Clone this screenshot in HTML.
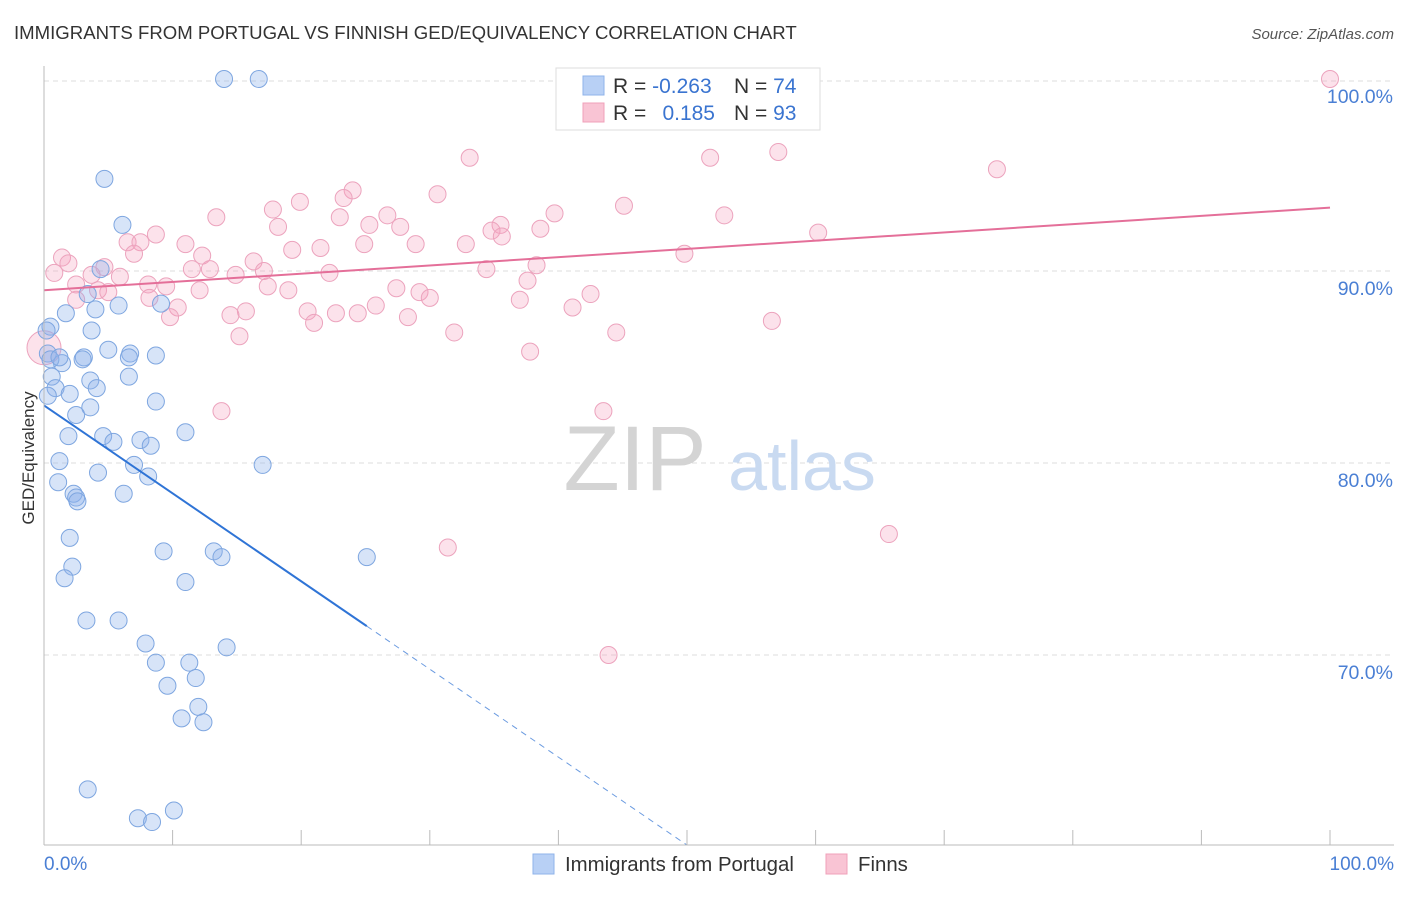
<!DOCTYPE html>
<html><head><meta charset="utf-8"><style>
body{margin:0;background:#fff;font-family:"Liberation Sans",sans-serif;}
svg text{font-family:"Liberation Sans",sans-serif;}
</style></head><body>
<svg id="chart" width="1406" height="892" xmlns="http://www.w3.org/2000/svg">
<text x="14" y="39" font-size="18.6" fill="#333">IMMIGRANTS FROM PORTUGAL VS FINNISH GED/EQUIVALENCY CORRELATION CHART</text>
<text x="1394" y="39" font-size="15" fill="#555" text-anchor="end" font-style="italic">Source: ZipAtlas.com</text>
<g id="grid"></g>
<g>
<text x="635" y="490" font-size="92" fill="#d4d4d4" text-anchor="middle" font-family="Liberation Serif, serif">ZIP</text>
<text x="802" y="490" font-size="70" fill="#c9daf1" text-anchor="middle">atlas</text>
</g>
<g id="pts"></g>
<g id="lines"></g>
<g id="axes"></g>
<text transform="translate(34,458) rotate(-90)" font-size="17" fill="#333" text-anchor="middle">GED/Equivalency</text>
<g>
<rect x="556" y="68" width="264" height="62" fill="#fff" stroke="#ddd"/>
<rect x="583" y="76" width="21" height="19" fill="#b8d0f5" stroke="#8fb3ea"/>
<rect x="583" y="103" width="21" height="19" fill="#f9c4d4" stroke="#f0a0ba"/>
<text x="613" y="93" font-size="21" fill="#333">R = <tspan fill="#3a74d0">-0.263</tspan></text>
<text x="734" y="93" font-size="21" fill="#333">N = <tspan fill="#3a74d0">74</tspan></text>
<text x="613" y="120" font-size="21" fill="#333">R = </text>
<text x="715" y="120" font-size="21" fill="#3a74d0" text-anchor="end">0.185</text>
<text x="734" y="120" font-size="21" fill="#333">N = <tspan fill="#3a74d0">93</tspan></text>
</g>
<g>
<rect x="533" y="854" width="21" height="20" fill="#b8d0f5" stroke="#8fb3ea"/>
<text x="565" y="871" font-size="20.4" fill="#333">Immigrants from Portugal</text>
<rect x="826" y="854" width="21" height="20" fill="#f9c4d4" stroke="#f0a0ba"/>
<text x="858" y="871" font-size="20.4" fill="#333">Finns</text>
</g>
</svg>
<script>
const blueX=[14.0,16.7,4.7,6.1,4.4,3.4,5.8,4.0,9.1,1.7,0.5,3.7,0.3,5.0,6.7,3.1,8.7,6.6,1.4,0.6,6.6,3.6,0.9,4.1,2.0,8.7,3.6,2.5,1.9,4.6,5.4,7.5,8.3,11.0,1.2,7.0,8.1,17.0,4.2,1.1,2.3,2.5,2.6,6.2,2.0,9.3,13.2,13.8,25.1,2.2,1.6,11.0,3.3,5.8,7.9,14.2,8.7,11.3,9.6,11.8,12.0,10.7,12.4,3.4,10.1,7.3,8.4,0.5,0.2,1.2,3.0,0.3];
const blueY=[100,100,94.8,92.4,90.1,88.8,88.2,88.0,88.3,87.8,87.1,86.9,85.7,85.9,85.7,85.5,85.6,85.5,85.2,84.5,84.5,84.3,83.9,83.9,83.6,83.2,82.9,82.5,81.4,81.4,81.1,81.2,80.9,81.6,80.1,79.9,79.3,79.9,79.5,79.0,78.4,78.2,78.0,78.4,76.1,75.4,75.4,75.1,75.1,74.6,74.0,73.8,71.8,71.8,70.6,70.4,69.6,69.6,68.4,68.8,67.3,66.7,66.5,63.0,61.9,61.5,61.3,85.4,86.9,85.5,85.4,83.5];
const pinkX=[100,58.9,55.8,41.5,33.1,51.8,57.1,74.1,24.0,30.6,19.9,23.3,17.8,13.4,23.0,25.3,27.7,26.7,39.7,45.1,52.9,18.2,35.5,34.8,38.6,60.2,8.7,6.5,7.5,11.0,21.5,19.3,24.9,28.9,32.8,35.6,49.8,1.4,7.0,12.3,16.3,4.7,0.8,1.9,3.7,5.9,8.1,11.5,12.9,14.9,17.1,22.2,34.4,38.3,4.2,2.5,5.0,12.1,17.4,19.0,8.2,9.5,2.5,10.4,27.4,29.2,30.0,37.6,42.5,20.5,15.7,14.5,9.8,22.7,24.4,25.8,28.3,37.0,41.1,21.0,15.2,31.9,44.5,56.6,37.8,13.8,43.5,31.4,65.7,43.9];
const pinkY=[100,100,100,98.4,95.9,95.9,96.2,95.3,94.2,94.0,93.6,93.8,93.2,92.8,92.8,92.4,92.3,92.9,93.0,93.4,92.9,92.3,92.4,92.1,92.2,92.0,91.9,91.5,91.5,91.4,91.2,91.1,91.4,91.4,91.4,91.8,90.9,90.7,90.9,90.8,90.5,90.2,89.9,90.4,89.8,89.7,89.3,90.1,90.1,89.8,90.0,89.9,90.1,90.3,89.0,89.3,88.9,89.0,89.2,89.0,88.6,89.2,88.5,88.1,89.1,88.9,88.6,89.5,88.8,87.9,87.9,87.7,87.6,87.8,87.8,88.2,87.6,88.5,88.1,87.3,86.6,86.8,86.8,87.4,85.8,82.7,82.7,75.6,76.3,70.0];
const yTicks=[100,90,80,70];
const yTickLabels=["100.0%","90.0%","80.0%","70.0%"];
const blueLine=[83.0,37.2]; // y at x=0 and x=100
const pinkLine=[89.0,93.3];
const blueSolidEnd=25.1;
const NS="http://www.w3.org/2000/svg";
const X=v=>44+v*12.86, Y=v=>79+(100-v)*19.2;
function mk(t,a,p){const e=document.createElementNS(NS,t);for(const k in a)e.setAttribute(k,a[k]);p.appendChild(e);return e;}
const grid=document.getElementById('grid'),axes=document.getElementById('axes');
yTicks.forEach((t,i)=>{
 const l=mk('line',{x1:44,x2:1394,y1:Y(t)+ (t==100?2:0),y2:Y(t)+(t==100?2:0),stroke:'#ddd','stroke-dasharray':'5,4'},grid);
 
 
 const tx=mk('text',{x:1393,y:Y(t)+24,'font-size':19.5,fill:'#4a7fd4','text-anchor':'end'},axes);
 tx.textContent=yTickLabels[i];
 
 
});
mk('line',{x1:44,x2:44,y1:66,y2:845,stroke:'#bbb'},axes);
mk('line',{x1:44,x2:1394,y1:845,y2:845,stroke:'#bbb'},axes);
for(let i=0;i<=10;i++){const t=mk('line',{x1:X(i*10),x2:X(i*10),y1:830,y2:845,stroke:'#bbb'},axes);}
const x0=mk('text',{x:44,y:870,'font-size':19,fill:'#4a7fd4'},axes);x0.textContent='0.0%';

const x1=mk('text',{x:1394,y:870,'font-size':19,fill:'#4a7fd4','text-anchor':'end'},axes);x1.textContent='100.0%';

const pts=document.getElementById('pts');
pinkX.forEach((x,i)=>{const c=mk('circle',{cx:X(x),cy:Y(pinkY[i]),r:8.5,fill:'rgba(244,160,188,0.3)',stroke:'#eca3bd','stroke-width':1},pts);
 });
const big=mk('circle',{cx:X(0),cy:Y(86),r:17,fill:'rgba(244,160,188,0.3)',stroke:'#eca3bd'},pts);

blueX.forEach((x,i)=>{const c=mk('circle',{cx:X(x),cy:Y(blueY[i]),r:8.5,fill:'rgba(140,178,236,0.35)',stroke:'#7ea6e0','stroke-width':1},pts);
 });
const lines=document.getElementById('lines');
const by=x=>blueLine[0]+(blueLine[1]-blueLine[0])*x/100;
const bs=mk('line',{x1:X(0),y1:Y(by(0)),x2:X(blueSolidEnd),y2:Y(by(blueSolidEnd)),stroke:'#2f74d6','stroke-width':2},lines);

const xEnd=(blueLine[0]-60.1)/(blueLine[0]-blueLine[1])*100;
const bd=mk('line',{x1:X(blueSolidEnd),y1:Y(by(blueSolidEnd)),x2:X(xEnd),y2:Y(by(xEnd)),stroke:'#6b9be0','stroke-width':1,'stroke-dasharray':'6,5'},lines);

const pl=mk('line',{x1:X(0),y1:Y(pinkLine[0]),x2:X(100),y2:Y(pinkLine[1]),stroke:'#e46f99','stroke-width':2},lines);

</script>
</body></html>
